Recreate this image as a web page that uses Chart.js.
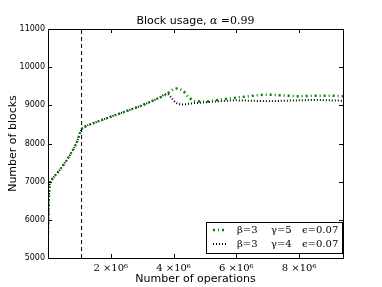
<!DOCTYPE html>
<html>
<head>
<meta charset="utf-8">
<script src="https://cdn.jsdelivr.net/npm/chart.js@4.4.0/dist/chart.umd.min.js"></script>
<style>
  html, body { margin: 0; padding: 0; background: #fff; }
  #wrap { width: 382px; height: 287px; }
</style>
</head>
<body>
<div id="wrap"><canvas id="blocks"></canvas></div>
<script>
// number of operations, in millions
const opsM = [0, 0.02, 0.05, 0.1, 0.3, 0.5, 0.7, 0.9, 1.07, 1.2, 1.5, 2.0, 2.5, 3.0, 3.5, 3.8, 3.9, 4.0, 4.1, 4.3, 4.5, 4.7, 5.0, 5.5, 6.0, 6.5, 7.0, 7.5, 8.0, 8.5, 9.0, 9.4];
// beta=3 gamma=5 eps=0.07
const blocksG5 = [5650, 6300, 6900, 7030, 7230, 7450, 7700, 8000, 8370, 8450, 8550, 8700, 8850, 9000, 9180, 9300, 9370, 9420, 9440, 9380, 9200, 9110, 9100, 9150, 9200, 9250, 9280, 9260, 9240, 9250, 9250, 9240];
// beta=3 gamma=4 eps=0.07
const blocksG4 = [5650, 6300, 6900, 7030, 7230, 7450, 7700, 8000, 8370, 8450, 8550, 8700, 8850, 9000, 9180, 9300, 9230, 9130, 9060, 9020, 9040, 9060, 9080, 9110, 9130, 9120, 9110, 9120, 9130, 9140, 9130, 9120];

const xTicks = [2, 4, 6, 8];
const yTicks = [5000, 6000, 7000, 8000, 9000, 10000, 11000];
const legendParts = [["β=3", "γ=5", "ϵ=0.07"], ["β=3", "γ=4", "ϵ=0.07"]];
const warmupEnd = 1.07;

const pts = (ys) => ys.map((y, i) => ({ x: opsM[i], y }));

// matplotlib style: frame, inward ticks, title, axis labels, legend box
const mplDecor = {
  id: "mplDecor",
  afterDraw(chart) {
    const { ctx, chartArea: a, scales } = chart;
    ctx.save();
    ctx.strokeStyle = "#000";
    ctx.lineWidth = 1;
    ctx.setLineDash([]);
    ctx.beginPath();
    xTicks.forEach((v) => {
      const px = Math.round(scales.x.getPixelForValue(v)) + 0.5;
      ctx.moveTo(px, a.bottom); ctx.lineTo(px, a.bottom - 4);
      ctx.moveTo(px, a.top); ctx.lineTo(px, a.top + 4);
    });
    yTicks.forEach((v) => {
      const py = Math.round(scales.y.getPixelForValue(v)) + 0.5;
      ctx.moveTo(a.left, py); ctx.lineTo(a.left + 4, py);
      ctx.moveTo(a.right, py); ctx.lineTo(a.right - 4, py);
    });
    ctx.stroke();
    ctx.strokeRect(Math.round(a.left) + 0.5, Math.round(a.top) + 0.5, Math.round(a.right - a.left), Math.round(a.bottom - a.top));

    // title
    const cx = (a.left + a.right) / 2;
    ctx.fillStyle = "#000";
    ctx.textBaseline = "middle";
    const t1 = "Block usage, ";
    ctx.font = "11px 'DejaVu Sans'";
    const w1 = ctx.measureText(t1).width;
    ctx.font = "italic 11px 'DejaVu Serif'";
    const w2 = ctx.measureText("α").width;
    ctx.font = "11px 'DejaVu Serif'";
    const w3 = ctx.measureText(" =0.99").width;
    const tx = cx - (w1 + w2 + w3) / 2;
    ctx.textAlign = "left";
    ctx.font = "11px 'DejaVu Sans'";
    ctx.fillText(t1, tx, 21);
    ctx.font = "italic 11px 'DejaVu Serif'";
    ctx.fillText("α", tx + w1, 21);
    ctx.font = "11px 'DejaVu Serif'";
    ctx.fillText(" =0.99", tx + w1 + w2, 21);

    // axis labels
    ctx.font = "11px 'DejaVu Sans'";
    ctx.textAlign = "center";
    ctx.fillText("Number of operations", cx, 279);
    ctx.save();
    ctx.translate(13, (a.top + a.bottom) / 2);
    ctx.rotate(-Math.PI / 2);
    ctx.fillText("Number of blocks", 0, 0);
    ctx.restore();

    // legend
    const lw = 136, lh = 31;
    const lx = a.right - lw - 1, ly = a.bottom - lh - 5;
    ctx.fillStyle = "#fff";
    ctx.fillRect(lx, ly, lw, lh);
    ctx.strokeStyle = "#000";
    ctx.strokeRect(Math.round(lx) + 0.5, Math.round(ly) + 0.5, lw, lh);
    const colX = [31, 65, 96];
    chart.data.datasets.slice(0, 2).forEach((ds, i) => {
      const ry = ly + 8 + i * 14;
      ctx.save();
      ctx.strokeStyle = ds.borderColor;
      ctx.lineWidth = ds.borderWidth;
      ctx.setLineDash(ds.borderDash);
      ctx.beginPath();
      ctx.moveTo(lx + 7, ry);
      ctx.lineTo(lx + 21, ry);
      ctx.stroke();
      ctx.restore();
      ctx.fillStyle = "#000";
      ctx.textAlign = "left";
      ctx.font = "10px 'DejaVu Serif'";
      legendParts[i].forEach((s, j) => ctx.fillText(s, lx + colX[j], ry));
    });
    ctx.restore();
  }
};

new Chart(document.getElementById("blocks"), {
  type: "line",
  data: {
    datasets: [
      {
        label: "β=3 γ=5 ϵ=0.07",
        data: pts(blocksG5),
        borderColor: "#008000",
        borderWidth: 2.5,
        borderDash: [2, 3, 1, 3],
        pointRadius: 0,
        cubicInterpolationMode: "monotone",
        fill: false
      },
      {
        label: "β=3 γ=4 ϵ=0.07",
        data: pts(blocksG4),
        borderColor: "#000",
        borderWidth: 2,
        borderDash: [1, 2],
        pointRadius: 0,
        cubicInterpolationMode: "monotone",
        fill: false
      },
      {
        label: "warmup",
        data: [{ x: warmupEnd, y: 5000 }, { x: warmupEnd, y: 11000 }],
        borderColor: "#000",
        borderWidth: 1,
        borderDash: [4, 3],
        pointRadius: 0,
        fill: false
      }
    ]
  },
  options: {
    responsive: true,
    maintainAspectRatio: false,
    animation: false,
    layout: { padding: { top: 29, right: 39, left: 0, bottom: 0 } },
    plugins: { legend: { display: false }, title: { display: false }, tooltip: { enabled: false } },
    scales: {
      x: {
        type: "linear",
        min: 0,
        max: 9.4,
        afterFit: (s) => { s.height = 29; },
        afterBuildTicks: (s) => { s.ticks = xTicks.map((v) => ({ value: v })); },
        grid: { display: false, drawTicks: false },
        border: { display: false },
        ticks: {
          padding: 4,
          color: "#000",
          font: { family: "'DejaVu Serif'", size: 10 },
          callback: (v) => v + " ×10⁶"
        }
      },
      y: {
        min: 5000,
        max: 11000,
        afterFit: (s) => { s.width = 48; },
        afterBuildTicks: (s) => { s.ticks = yTicks.map((v) => ({ value: v })); },
        grid: { display: false, drawTicks: false },
        border: { display: false },
        ticks: {
          padding: 3,
          color: "#000",
          font: { family: "'DejaVu Sans'", size: 8 },
          callback: (v) => String(v)
        }
      }
    }
  },
  plugins: [mplDecor]
});
</script>
</body>
</html>
